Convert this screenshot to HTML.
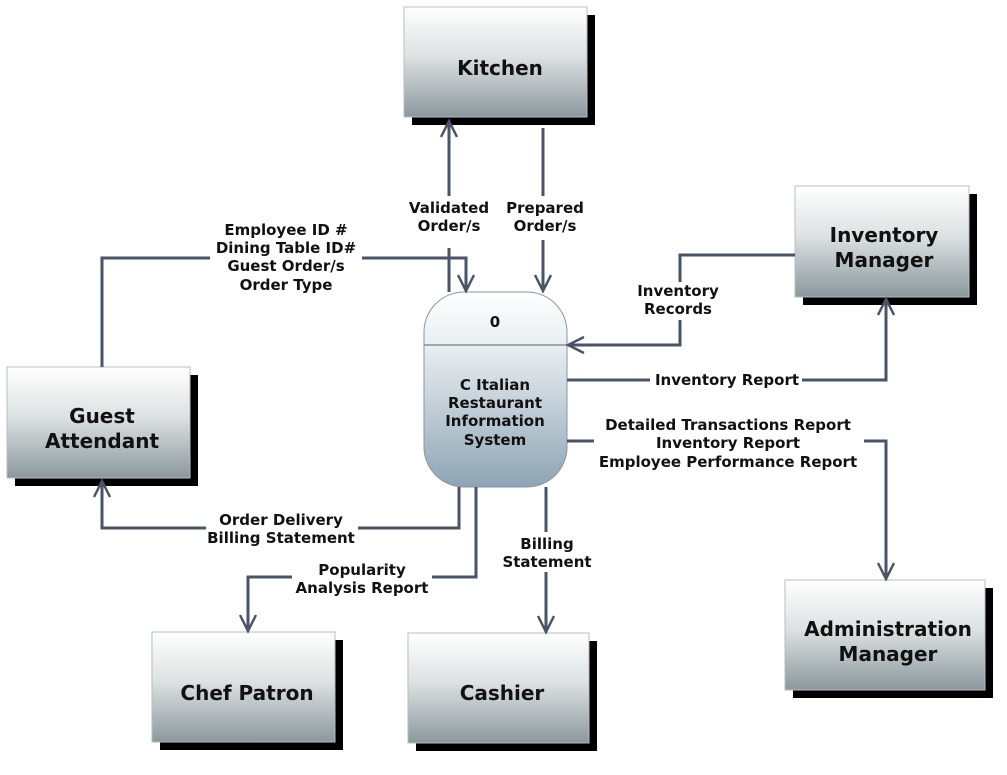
<!DOCTYPE html>
<html><head><meta charset="utf-8"><style>
html,body{margin:0;padding:0;background:#fff;width:1007px;height:775px;overflow:hidden}
svg{display:block}
text{font-family:"DejaVu Sans","Liberation Sans",sans-serif;font-weight:bold;fill:#111}
.l{font-size:15px;text-anchor:middle}
.b{font-size:20px;text-anchor:middle}
.c{fill:none;stroke:#4a5468;stroke-width:3}
.a{fill:none;stroke:#4a5468;stroke-width:2.5}
</style></head><body>
<svg width="1007" height="775" viewBox="0 0 1007 775">
<defs>
<linearGradient id="g" x1="0" y1="0" x2="0" y2="1"><stop offset="0" stop-color="#ffffff"/><stop offset="0.45" stop-color="#dde1e2"/><stop offset="1" stop-color="#8a989d"/></linearGradient>
<linearGradient id="p" x1="0" y1="0" x2="0" y2="1"><stop offset="0" stop-color="#ffffff"/><stop offset="0.3" stop-color="#e6ecf0"/><stop offset="1" stop-color="#8ea4b4"/></linearGradient>
</defs>
<g>
<rect x="412" y="15" width="183" height="110" fill="#000"/><rect x="404" y="7" width="183" height="110" fill="url(#g)" stroke="#b8bec0"/>
<text class="b" x="500" y="75">Kitchen</text>
<rect x="803" y="194" width="174" height="111" fill="#000"/><rect x="795" y="186" width="174" height="111" fill="url(#g)" stroke="#b8bec0"/>
<text class="b" x="884" y="242">Inventory</text><text class="b" x="884" y="267">Manager</text>
<rect x="15" y="375" width="183" height="111" fill="#000"/><rect x="7" y="367" width="183" height="111" fill="url(#g)" stroke="#b8bec0"/>
<text class="b" x="102" y="423">Guest</text><text class="b" x="102" y="448">Attendant</text>
<rect x="793" y="588" width="200" height="110" fill="#000"/><rect x="785" y="580" width="200" height="110" fill="url(#g)" stroke="#b8bec0"/>
<text class="b" x="888" y="636">Administration</text><text class="b" x="888" y="661">Manager</text>
<rect x="160" y="640" width="183" height="110" fill="#000"/><rect x="152" y="632" width="183" height="110" fill="url(#g)" stroke="#b8bec0"/>
<text class="b" x="247" y="700">Chef Patron</text>
<rect x="416" y="641" width="181" height="110" fill="#000"/><rect x="408" y="633" width="181" height="110" fill="url(#g)" stroke="#b8bec0"/>
<text class="b" x="502" y="700">Cashier</text>
</g>
<rect x="424" y="292" width="143" height="195" rx="40" fill="url(#p)" stroke="#8a96a0"/>
<line x1="424" y1="345" x2="567" y2="345" stroke="#8a8f94" stroke-width="1.5"/>
<text class="l" x="495" y="327">0</text>
<text class="l" x="495" y="390">C Italian</text><text class="l" x="495" y="408">Restaurant</text><text class="l" x="495" y="426">Information</text><text class="l" x="495" y="445">System</text>
<path class="c" d="M449 292V248M449 196V122"/><path class="a" d="M441 137L449 121L457 137"/>
<text class="l" x="449" y="213">Validated</text><text class="l" x="449" y="231">Order/s</text>
<path class="c" d="M543 128V196M543 240V290"/><path class="a" d="M535 275L543 291L551 275"/>
<text class="l" x="545" y="213">Prepared</text><text class="l" x="545" y="231">Order/s</text>
<path class="c" d="M102 367V258H210M362 258H466V290"/><path class="a" d="M458 275L466 291L474 275"/>
<text class="l" x="286" y="235">Employee ID #</text><text class="l" x="286" y="253">Dining Table ID#</text><text class="l" x="286" y="271">Guest Order/s</text><text class="l" x="286" y="290">Order Type</text>
<path class="c" d="M795 255H680V282M680 320V345H569"/><path class="a" d="M584 337L568 345L584 353"/>
<text class="l" x="678" y="296">Inventory</text><text class="l" x="678" y="314">Records</text>
<path class="c" d="M567 380H650M802 380H886V300"/><path class="a" d="M878 315L886 299L894 315"/>
<text class="l" x="727" y="385">Inventory Report</text>
<path class="c" d="M567 441H594M864 441H886V578"/><path class="a" d="M878 563L886 579L894 563"/>
<text class="l" x="728" y="430">Detailed Transactions Report</text><text class="l" x="728" y="448">Inventory Report</text><text class="l" x="728" y="467">Employee Performance Report</text>
<path class="c" d="M459 487V528H358M206 528H102V482"/><path class="a" d="M94 497L102 481L110 497"/>
<text class="l" x="281" y="525">Order Delivery</text><text class="l" x="281" y="543">Billing Statement</text>
<path class="c" d="M476 487V577H432M292 577H248V630"/><path class="a" d="M240 615L248 631L256 615"/>
<text class="l" x="362" y="575">Popularity</text><text class="l" x="362" y="593">Analysis Report</text>
<path class="c" d="M546 487V532M546 572V631"/><path class="a" d="M538 616L546 632L554 616"/>
<text class="l" x="547" y="549">Billing</text><text class="l" x="547" y="567">Statement</text>
</svg>
</body></html>
